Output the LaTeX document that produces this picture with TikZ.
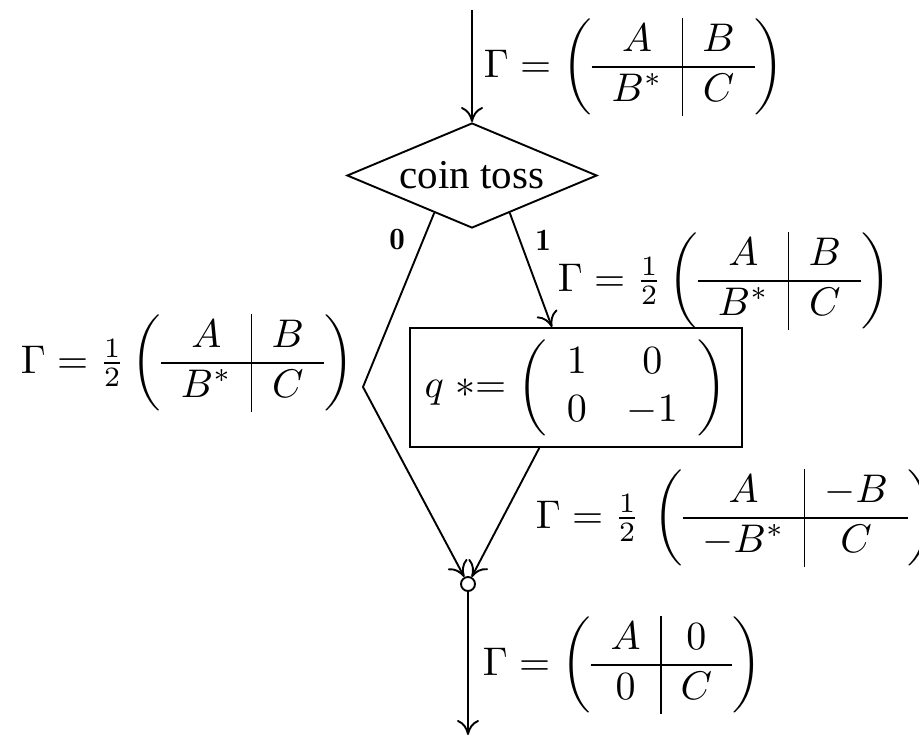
\documentclass[tikz,border=0pt]{standalone}
\usepackage{fontspec}
\newfontfamily\tnr{Liberation Serif}
\usepackage{graphicx}
\usetikzlibrary{shapes.geometric,arrows.meta,calc}
\newcommand\mysc[1]{\scalebox{4}{$#1$}}
\newcommand\gmat[4]{\left(\begin{array}{c|c} #1 & #2 \\ \hline #3 & #4 \end{array}\right)}
\begin{document}
\begin{tikzpicture}[x=1pt,y=-1pt,line width=1.9pt,
  arr/.style={-{To[length=15pt,width=22pt]}},
  lab/.style={anchor=west,inner sep=0pt},
  digit/.style={inner sep=0pt}]
\useasboundingbox (0,0) rectangle (919,737);
\coordinate (top) at (472,10);
\node[diamond,draw,aspect=2.38,minimum width=250pt,minimum height=105pt,inner sep=0pt,
  font=\tnr\fontsize{41}{48}\selectfont] (toss) at (472,175.5) {coin toss};
\node[draw,circle,minimum size=14pt,inner sep=0pt] (join) at (468,584) {};
\node[draw,minimum width=332pt,minimum height=119pt,inner sep=0pt] (qbox) at (576,387.5)
  {\mysc{q \mathrel{*}= \left(\begin{array}{cc}1&0\\0&-1\end{array}\right)}};
\coordinate (bend) at (363,387);
\coordinate (bottom) at (468,735);
\draw[arr] (top) -- (toss.north);
\draw[arr] ($(toss.west)!0.7!(toss.south)$) -- (bend) -- (join);
\draw[arr] ($(toss.south)!0.3!(toss.east)$) -- ($(qbox.north west)!0.428!(qbox.north east)$);
\draw[arr] ($(qbox.south west)!0.39!(qbox.south east)$) -- (join);
\draw[arr] (join) -- (bottom);
\node[lab] (g0) at (483,67) {\mysc{\Gamma = \gmat{A}{B}{B^*}{C}}};
\node[lab] (g1) at (557,281) {\mysc{\Gamma = \frac12\gmat{A}{B}{B^*}{C}}};
\node[lab] (g2) at (20,363) {\mysc{\Gamma = \frac12\gmat{A}{B}{B^*}{C}}};
\node[lab] (g3) at (535,518) {\mysc{\Gamma = \frac12\,\gmat{A}{-B}{-B^*}{C}}};
\node[lab] (g4) at (482,665) {\mysc{\Gamma = \gmat{A}{0}{0}{C}}};
\node[digit] (l0) at (397,240) {\scalebox{3.1}{$\mathbf{0}$}};
\node[digit] (l1) at (543,240) {\scalebox{3.1}{$\mathbf{1}$}};
\end{tikzpicture}
\end{document}
